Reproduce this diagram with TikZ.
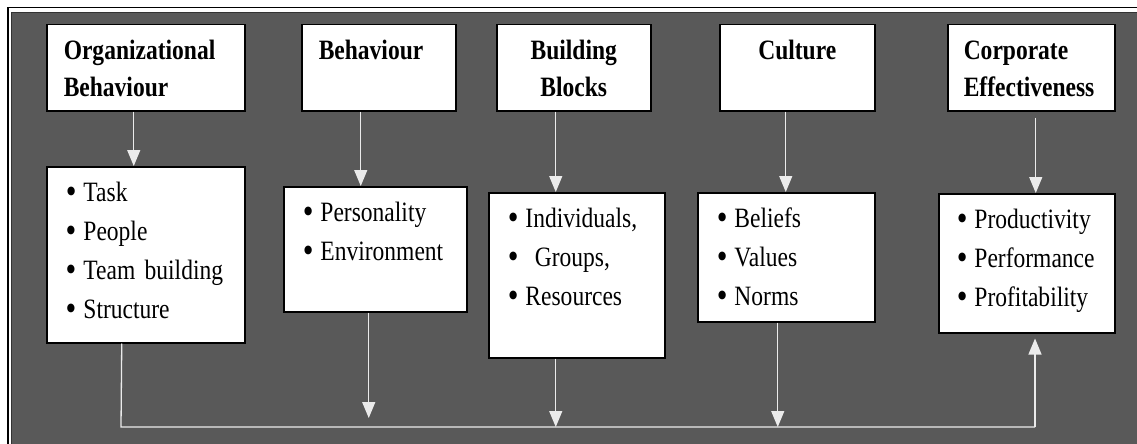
\documentclass[tikz,border=0pt]{standalone}
\usepackage{fontspec}
\usepackage{graphicx}
\setmainfont{Liberation Serif}[FakeStretch=0.84]
\usetikzlibrary{arrows.meta}
\definecolor{panel}{HTML}{595959}
\newcommand{\itm}{\raisebox{-1.5pt}{\scalebox{1.3}{\textbullet}}\kern7pt}
\hyphenpenalty=10000

\begin{document}
\begin{tikzpicture}[x=1pt,y=-1pt]
  \tikzset{head/.style={draw=black,line width=1.5pt,fill=white,anchor=north west,
      inner xsep=17pt,inner ysep=17pt,text height=18pt,text depth=34pt,align=left,
      font=\bfseries\fontsize{28}{37}\selectfont},
    items/.style={draw=black,line width=1.5pt,fill=white,anchor=north west,
      inner xsep=19pt,inner ysep=17pt,text height=18pt,align=left,
      font=\fontsize{28}{39}\selectfont},
    link/.style={draw=white!92!black,line width=1.3pt},
    flow/.style={link,arrows={-{Triangle[width=13pt,length=16pt]}}}};
  \useasboundingbox (0,0) rectangle (1137,444);
  \clip (0,0) rectangle (1137,444);
  % frame
  \fill[white] (0,0) rectangle (1137,444);
  \draw[line width=1.5pt] (8,7.5) rectangle (1160,470);
  \fill[panel] (11,12) rectangle (1160,470);
  \draw[line width=1.5pt,black!80] (11.7,12.7) rectangle (1160,470);
  % top row
  \node[head,text width=164pt] (org) at (46,24) {Organizational\\Behaviour};
  \node[head,text width=120pt] (beh) at (301,24) {Behaviour};
  \node[head,text width=120pt,align=center] (blk) at (496,24) {Building\\Blocks};
  \node[head,text width=121pt,align=center] (cul) at (719,24) {Culture};
  \node[head,text width=135pt,inner xsep=16pt] (eff) at (947,24) {Corporate\\Effectiveness};
  % lists
  \node[items,text width=160pt,text depth=124pt] (orglist) at (46,166)
    {\itm Task\\\itm People\\\itm Team~building\\\itm Structure};
  \node[items,text width=145pt,text depth=73pt] (behlist) at (283,186)
    {\itm Personality\\\itm Environment};
  \node[items,text width=138pt,text depth=113pt] (blklist) at (488,192)
    {\itm Individuals,\\\itm~Groups,\\\itm Resources};
  \node[items,text width=139pt,text depth=77pt] (cullist) at (697,192)
    {\itm Beliefs\\\itm Values\\\itm Norms};
  \node[items,text width=140pt,inner xsep=18pt,text depth=87pt] (efflist) at (938,193)
    {\itm Productivity\\\itm Performance\\\itm Profitability};
  % down arrows
  \draw[flow] ([xshift=-12pt]org.south) -- ([xshift=-12pt]org.south |- orglist.north);
  \draw[flow] ([xshift=-18pt]beh.south) -- ([xshift=-18pt]beh.south |- behlist.north);
  \draw[flow] ([xshift=-18pt]blk.south) -- ([xshift=-18pt]blk.south |- blklist.north);
  \draw[flow] ([xshift=-11.5pt]cul.south) -- ([xshift=-11.5pt]cul.south |- cullist.north);
  \draw[flow,shorten <=6pt] ([xshift=4.5pt]eff.south) -- ([xshift=4.5pt]eff.south |- efflist.north);
  % bottom bus
  \coordinate (busL) at (121,427);
  \coordinate (busR) at (1035,427);
  \draw[link] ([xshift=-24pt]orglist.south) -- (busL) -- (busR);
  \draw[flow,shorten >=9pt] ([xshift=-6.5pt]behlist.south) -- ([xshift=-6.5pt]behlist.south |- busL);
  \draw[flow] ([xshift=-21pt]blklist.south) -- ([xshift=-21pt]blklist.south |- busL);
  \draw[flow] ([xshift=-8.5pt]cullist.south) -- ([xshift=-8.5pt]cullist.south |- busL);
  \draw[flow,shorten >=5pt] (busR) -- (busR |- efflist.south);
\end{tikzpicture}
\end{document}
